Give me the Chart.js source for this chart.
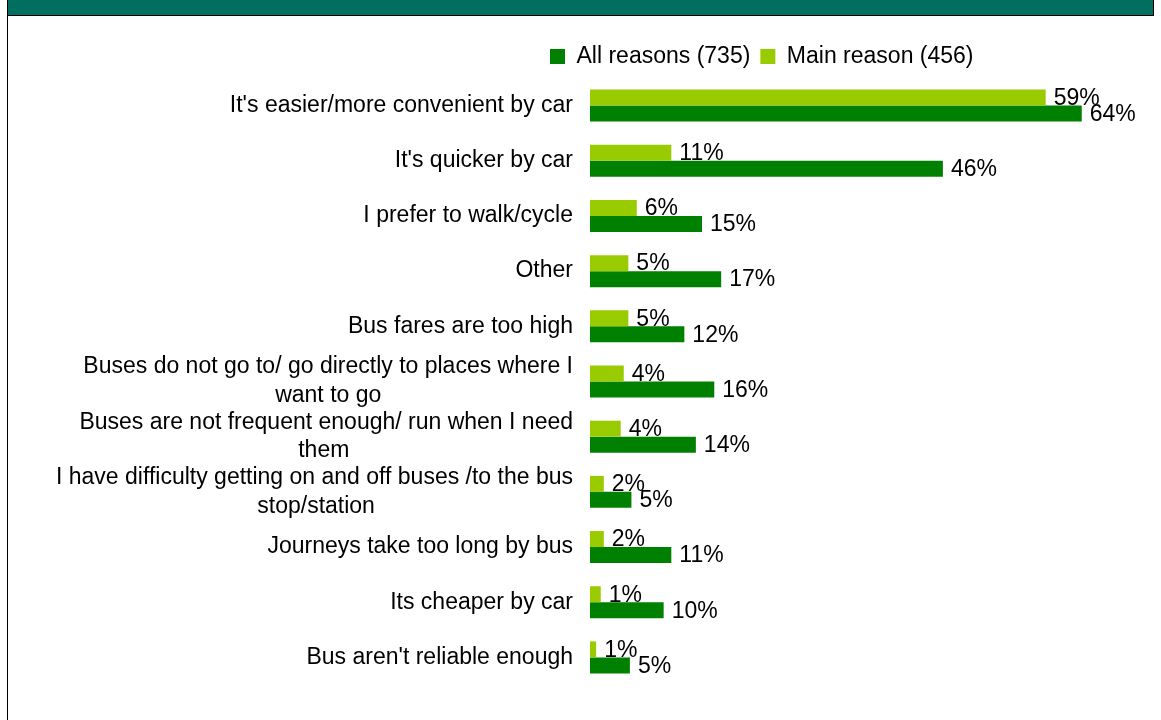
<!DOCTYPE html>
<html lang="en">
<head>
    <meta charset="UTF-8" />
    <title>Reasons for not using the bus</title>
    <script src="https://cdn.jsdelivr.net/npm/chart.js"></script>
    <style>
        body { margin: 0; background: #fff; font-family: "Liberation Sans", Arial, sans-serif; }
        #frame-top { position: absolute; left: 7px; top: 0; width: 1145px; height: 15px; background: #006F5F; border: 1px solid #000; border-top: none; }
        #frame-left { position: absolute; left: 7px; top: 0; width: 1px; height: 720px; background: #000; }
        #chart-box { position: absolute; left: 0; top: 0; width: 1161px; height: 720px; }
    </style>
</head>
<body>
    <div id="frame-top"></div>
    <div id="frame-left"></div>
    <div id="chart-box">
        <canvas id="reasonsChart" width="1161" height="720"></canvas>
    </div>

    <script>
        const reasons = [
            "It's easier/more convenient by car",
            "It's quicker by car",
            "I prefer to walk/cycle",
            "Other",
            "Bus fares are too high",
            ["Buses do not go to/ go directly to places where I", "want to go"],
            ["Buses are not frequent enough/ run when I need", "them"],
            ["I have difficulty getting on and off buses /to the bus", "stop/station"],
            "Journeys take too long by bus",
            "Its cheaper by car",
            "Bus aren't reliable enough"
        ];
        const mainReason = [59.4, 10.6, 6.1, 5.0, 5.0, 4.4, 4.0, 1.8, 1.8, 1.4, 0.8];
        const allReasons = [64.1, 46.0, 14.6, 17.1, 12.3, 16.2, 13.8, 5.4, 10.6, 9.6, 5.2];
        const mainLabel = 'Main reason (456)';
        const allLabel = 'All reasons (735)';

        const fontFamily = '"Liberation Sans", Arial, sans-serif';
        const labelFont = '23px ' + fontFamily;

        // centre the second line of a two-line label under the first (pads with trailing spaces)
        const measureCtx = document.createElement('canvas').getContext('2d');
        measureCtx.font = labelFont;
        function centreLines(label) {
            if (!Array.isArray(label)) return label;
            const widths = label.map(l => measureCtx.measureText(l).width);
            const maxW = Math.max(...widths);
            const spaceW = measureCtx.measureText(' ').width;
            return label.map((l, i) => l + ' '.repeat(Math.round((maxW - widths[i]) / 2 / spaceW)));
        }
        const tickLabels = reasons.map(centreLines);

        const valueLabels = {
            id: 'valueLabels',
            afterDatasetsDraw(chart) {
                const ctx = chart.ctx;
                ctx.save();
                ctx.font = labelFont;
                ctx.fillStyle = '#000';
                ctx.textAlign = 'left';
                ctx.textBaseline = 'middle';
                chart.data.datasets.forEach((ds, i) => {
                    chart.getDatasetMeta(i).data.forEach((bar, j) => {
                        ctx.fillText(Math.round(ds.data[j]) + '%', bar.x + 8, bar.y + 1);
                    });
                });
                ctx.restore();
            }
        };

        // move the legend so it starts above the bars, like the original
        const legendShift = {
            id: 'legendShift',
            afterLayout(chart) {
                chart.legend.left += 540;
                chart.legend.right += 540;
            }
        };

        new Chart(document.getElementById('reasonsChart'), {
            type: 'bar',
            data: {
                labels: tickLabels,
                datasets: [
                    { label: mainLabel, data: mainReason, backgroundColor: '#99CC00' },
                    { label: allLabel, data: allReasons, backgroundColor: '#008000' }
                ]
            },
            options: {
                indexAxis: 'y',
                responsive: false,
                animation: false,
                layout: { padding: { top: 35, bottom: 35, left: 0, right: 34 } },
                datasets: { bar: { barPercentage: 1, categoryPercentage: 0.58 } },
                scales: {
                    x: { display: false, min: 0, max: 70 },
                    y: {
                        afterFit(scale) { scale.width = 590; },
                        grid: { display: false, drawTicks: false },
                        border: { display: false },
                        ticks: {
                            autoSkip: false,
                            padding: 17,
                            color: '#000',
                            font: { family: fontFamily, size: 23, lineHeight: 1.25 }
                        }
                    }
                },
                plugins: {
                    legend: {
                        position: 'top',
                        align: 'start',
                        reverse: true,
                        labels: {
                            boxWidth: 15,
                            boxHeight: 15,
                            padding: 10,
                            color: '#000',
                            font: { family: fontFamily, size: 23 }
                        }
                    },
                    tooltip: { enabled: false }
                }
            },
            plugins: [valueLabels, legendShift]
        });
    </script>
</body>
</html>
